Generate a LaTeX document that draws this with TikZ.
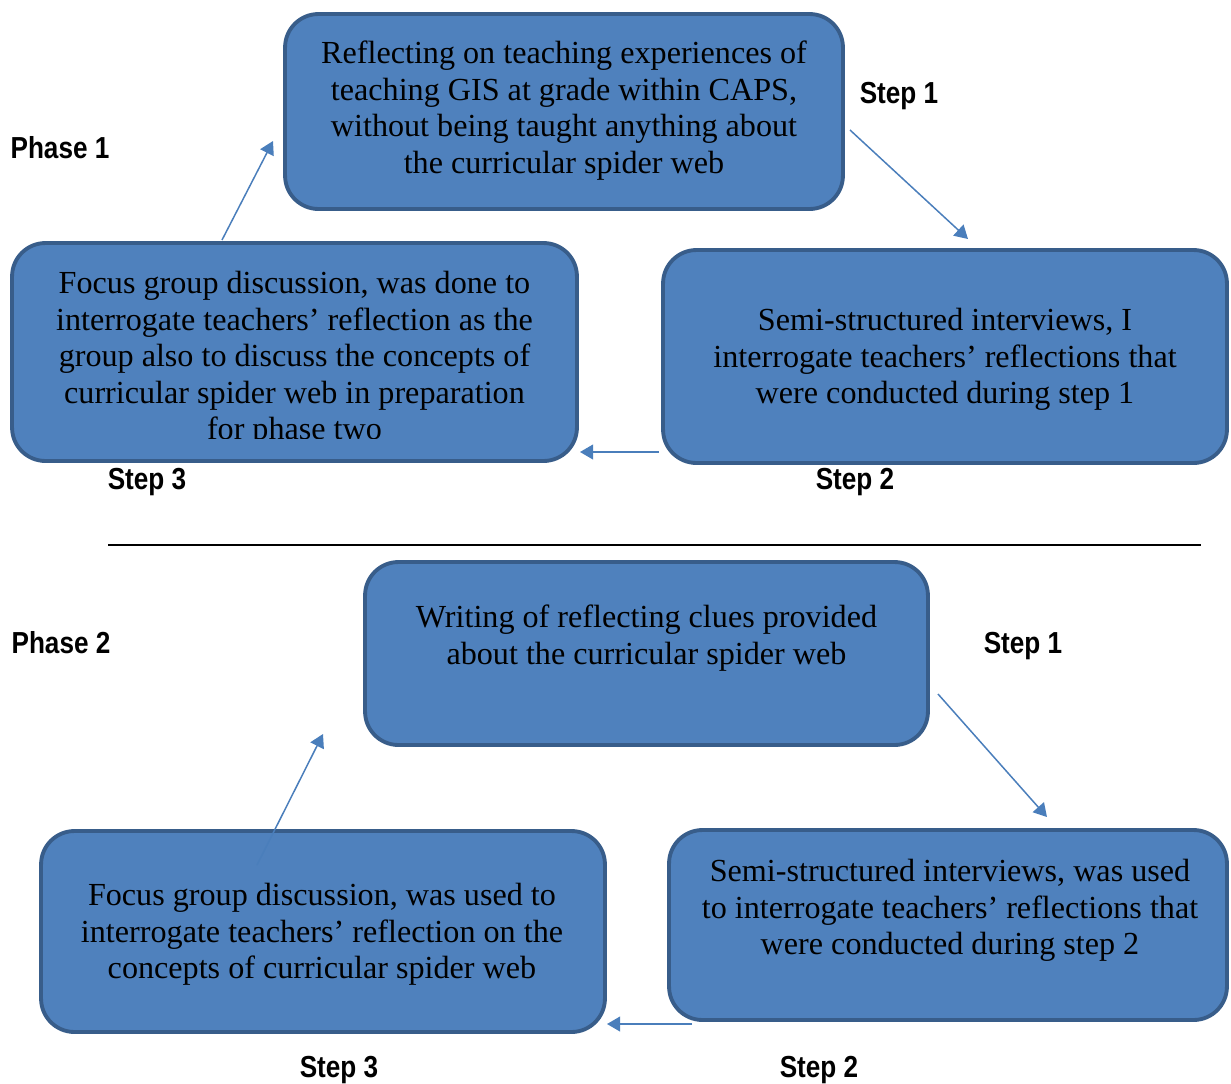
\documentclass[tikz,border=0pt]{standalone}
\usepackage{fontspec}
\setmainfont{Liberation Serif}
\newfontfamily\stepfont[FakeStretch=0.86]{Liberation Sans}
\usetikzlibrary{arrows.meta}
\definecolor{boxfill}{HTML}{4F81BD}
\definecolor{boxline}{HTML}{385D8A}
\definecolor{arrowblue}{HTML}{4A7EBB}
\begin{document}
\begin{tikzpicture}[x=0.02cm,y=-0.02cm,
    stepbox/.style={draw=boxline,fill=boxfill,line width=2.2pt,rounded corners=19pt,inner sep=0pt},
    boxtext/.style={inner sep=0pt,align=center,font=\fontsize{18.3}{20.8}\selectfont},
    steplabel/.style={inner sep=0pt,font=\stepfont\bfseries\fontsize{17.3}{20}\selectfont},
    flow/.style={draw=arrowblue,line width=0.85pt,-{Triangle[length=7.5pt,width=8.5pt]}}]
    \useasboundingbox (0,0) rectangle (1231,1083);
    \node[stepbox,minimum width=11.16cm,minimum height=3.9cm] (PA) at (564,111.5) {};
    \node[stepbox,minimum width=11.28cm,minimum height=4.26cm] (PB) at (945,356.5) {};
    \node[stepbox,minimum width=11.3cm,minimum height=4.36cm] (PC) at (294.5,352) {};
    \node[stepbox,minimum width=11.26cm,minimum height=3.66cm] (QA) at (646.5,653.5) {};
    \node[stepbox,minimum width=11.16cm,minimum height=3.8cm] (QB) at (948,925) {};
    \node[stepbox,minimum width=11.28cm,minimum height=4.02cm] (QC) at (323,931.5) {};

    \node[boxtext] (PAt) at (564,110.7) {Reflecting on teaching experiences of\\teaching GIS at grade within CAPS,\\without being taught anything about\\the curricular spider web};
    \node[boxtext] (PBt) at (945,359.7) {Semi-structured interviews, I\\interrogate teachers’ reflections that\\were conducted during step 1};
    \begin{scope}
        \clip (12,243) rectangle (577,438);
        \node[boxtext] (PCt) at (294.5,359) {Focus group discussion, was done to\\interrogate teachers’ reflection as the\\group also to discuss the concepts of\\curricular spider web in preparation\\for phase two};
    \end{scope}
    \node[boxtext] (QAt) at (646.5,638) {Writing of reflecting clues provided\\about the curricular spider web};
    \node[boxtext] (QBt) at (950,910.5) {Semi-structured interviews, was used\\to interrogate teachers’ reflections that\\were conducted during step 2};
    \node[boxtext] (QCt) at (322,934.5) {Focus group discussion, was used to\\interrogate teachers’ reflection on the\\concepts of curricular spider web};

    \node[steplabel] (P1) at (60,148) {Phase 1};
    \node[steplabel] (PS1) at (899,96) {Step 1};
    \node[steplabel] (PS2) at (855,482) {Step 2};
    \node[steplabel] (PS3) at (147,482) {Step 3};
    \node[steplabel] (P2) at (61,643) {Phase 2};
    \node[steplabel] (QS1) at (1023,646) {Step 1};
    \node[steplabel] (QS2) at (819,1070) {Step 2};
    \node[steplabel] (QS3) at (339,1070) {Step 3};

    \coordinate (PAout) at (850,130);
    \coordinate (PBin) at (968,239);
    \coordinate (PBout) at (659,452);
    \coordinate (PCin) at (580,452);
    \coordinate (PCout) at (222,240);
    \coordinate (PAin) at (273,141);
    \coordinate (QAout) at (938,694);
    \coordinate (QBin) at (1047,817);
    \coordinate (QBout) at (692,1024);
    \coordinate (QCin) at (607,1024);
    \coordinate (QCout) at (257,865);
    \coordinate (QAin) at (323,734);
    \coordinate (RuleL) at (108,545);
    \coordinate (RuleR) at (1201,545);

    \draw[flow] (PAout)--(PBin);
    \draw[flow] (PBout)--(PCin);
    \draw[flow] (PCout)--(PAin);
    \draw[flow] (QAout)--(QBin);
    \draw[flow] (QBout)--(QCin);
    \draw[flow] (QCout)--(QAin);
    \draw[line width=0.8pt] (RuleL)--(RuleR);
\end{tikzpicture}
\end{document}
